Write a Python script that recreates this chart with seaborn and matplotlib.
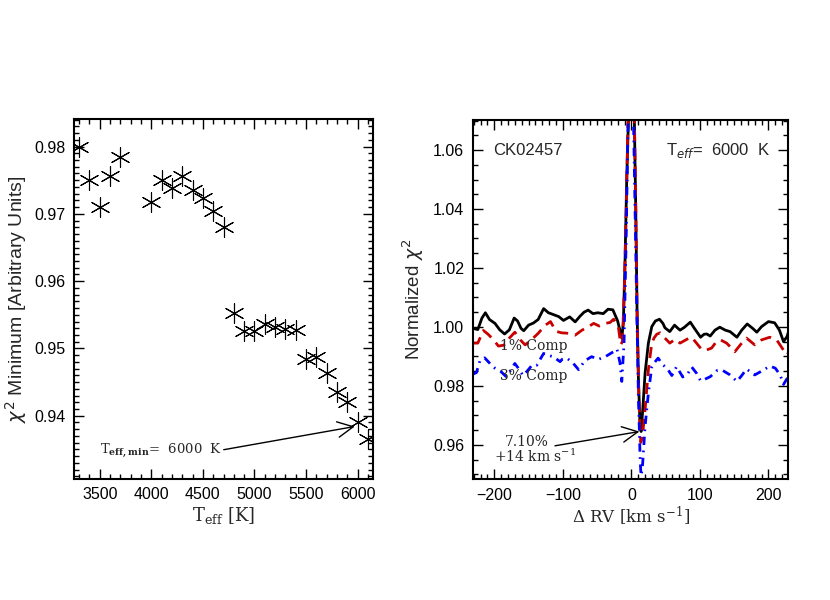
import numpy as np
import pandas as pd
import matplotlib
matplotlib.use('Agg')
import matplotlib.pyplot as plt
from matplotlib.ticker import MultipleLocator
import seaborn as sns

# left panel: chi2 minimum vs template Teff
teff = [3300, 3400, 3500, 3600, 3700, 4000, 4100, 4200, 4300, 4400, 4500, 4600, 4700,
        4800, 4900, 5000, 5100, 5200, 5300, 5400, 5500, 5600, 5700, 5800, 5900, 6000, 6100]
chi2_min = [0.9800, 0.9751, 0.9710, 0.9757, 0.9784, 0.9718, 0.9751, 0.9739, 0.9757, 0.9736,
            0.9723, 0.9704, 0.9681, 0.9553, 0.9526, 0.9526, 0.9537, 0.9532, 0.9529, 0.9528,
            0.9484, 0.9487, 0.9463, 0.9435, 0.9421, 0.9390, 0.9366]

# right panel: normalized chi2 vs delta RV, three companion levels
rv_black = [-231, -224, -218, -213, -207, -199, -192, -185, -178, -171, -166, -161, -157, -150,
            -143, -136, -128, -121, -114, -106, -99, -90, -82, -75, -69, -63, -56, -49, -41,
            -34, -27, -20, -14, -11.7, -9.2, -6.7, -4.3, -2, 0, 2, 4.4, 6.4, 8.3, 10.2, 12.7,
            14.2, 16.6, 20, 24.8, 29.8, 35, 41, 46, 49, 56, 63, 68, 71, 77, 86, 92, 101, 106,
            110, 115, 122, 129, 137, 144, 154, 161, 169, 177, 183, 190, 200, 209, 216, 222,
            227, 230]
chi_black = [0.9995, 0.9991, 1.0030, 1.0048, 1.0025, 1.0012, 0.9990, 0.9976, 0.9990, 1.0030,
             1.0020, 0.9995, 0.9987, 1.0006, 1.0013, 1.0025, 1.0062, 1.0048, 1.0042, 1.0035,
             1.0022, 1.0034, 1.0017, 1.0036, 1.0050, 1.0057, 1.0045, 1.0048, 1.0045, 1.0060,
             1.0058, 1.0020, 0.9962, 1.0013, 1.0227, 1.0510, 1.0700, 1.0950, 1.1100, 1.0950,
             1.0700, 1.0397, 1.0057, 0.9831, 0.9662, 0.9645, 0.9719, 0.9843, 0.9945, 1.0001,
             1.0020, 1.0026, 1.0012, 0.9997, 0.9984, 1.0006, 0.9995, 0.9989, 0.9998, 1.0016,
             0.9995, 0.9965, 0.9975, 0.9976, 0.9969, 0.9989, 0.9999, 0.9989, 0.9984, 0.9965,
             0.9989, 1.0010, 0.9995, 0.9982, 1.0001, 1.0018, 1.0014, 0.9989, 0.9950, 0.9967,
             0.9989]

rv_red = [-231, -224, -216, -209, -201, -194, -186, -178, -170, -162, -155, -145, -136, -126,
          -118, -110, -102, -90, -82, -72, -63, -55, -47, -38, -31, -26, -19, -15.5, -13, -10,
          -7.5, -5, -2, 0, 2, 4.5, 6.5, 8.5, 11, 13.7, 16, 20, 24.8, 29.8, 33, 37, 42, 49, 56,
          64, 71, 81, 88, 95, 103, 110, 117, 124, 130, 139, 151, 161, 168, 180, 190, 202, 212,
          220, 227, 230]
chi_red = [0.9945, 0.9945, 0.9988, 0.9975, 0.9956, 0.9935, 0.9938, 0.9962, 0.9982, 0.9956,
           0.9939, 0.9958, 0.9978, 1.0005, 1.0018, 0.9985, 0.9980, 0.9978, 0.9972, 0.9989,
           1.0000, 1.0012, 1.0003, 1.0012, 1.0015, 1.0026, 1.0000, 0.9940, 0.9950, 1.0150,
           1.0400, 1.0700, 1.0950, 1.1100, 1.0950, 1.0700, 1.0400, 1.0030, 0.9750, 0.9608,
           0.9625, 0.9719, 0.9854, 0.9945, 0.9962, 0.9975, 0.9980, 0.9962, 0.9945, 0.9958,
           0.9945, 0.9958, 0.9965, 0.9945, 0.9922, 0.9922, 0.9928, 0.9950, 0.9956, 0.9945,
           0.9916, 0.9945, 0.9962, 0.9939, 0.9956, 0.9965, 0.9956, 0.9928, 0.9905, 0.9915]

rv_blue = [-231, -226, -221, -214, -206, -199, -191, -183, -177, -170, -165, -158, -152, -145,
           -138, -128, -119, -114, -104, -101, -94, -85, -77, -68, -58, -48, -38, -26, -21,
           -16.5, -14, -10.7, -7.7, -5.3, -3, 0, 2, 5.4, 7.9, 10.2, 12.7, 14, 16, 20, 24.8,
           29.8, 34, 39, 46, 52, 59, 66, 75, 82, 88, 95, 101, 105, 115, 125, 132, 144, 154,
           161, 168, 180, 190, 202, 210, 217, 222, 227, 230]
chi_blue = [0.9840, 0.9845, 0.9885, 0.9895, 0.9875, 0.9860, 0.9850, 0.9832, 0.9850, 0.9876,
            0.9860, 0.9835, 0.9850, 0.9870, 0.9870, 0.9910, 0.9902, 0.9899, 0.9882, 0.9890,
            0.9894, 0.9877, 0.9855, 0.9885, 0.9899, 0.9890, 0.9899, 0.9916, 0.9925, 0.9877,
            0.9815, 0.9945, 1.0284, 1.0623, 1.0900, 1.1100, 1.0850, 1.0397, 1.0057, 0.9775,
            0.9560, 0.9495, 0.9520, 0.9662, 0.9775, 0.9865, 0.9880, 0.9894, 0.9871, 0.9860,
            0.9835, 0.9865, 0.9830, 0.9840, 0.9864, 0.9843, 0.9817, 0.9820, 0.9831, 0.9852,
            0.9854, 0.9837, 0.9815, 0.9835, 0.9857, 0.9837, 0.9850, 0.9867, 0.9860, 0.9837,
            0.9805, 0.9824, 0.9826]

sns.set_style('ticks')
plt.rcParams['font.family'] = ['Liberation Sans', 'DejaVu Sans']
plt.rcParams['axes.linewidth'] = 1.5

fig = plt.figure(figsize=(8.3, 6.0), dpi=100)
ax1 = fig.add_axes([0.0892, 0.2017, 0.3602, 0.6])
ax2 = fig.add_axes([0.5695, 0.2012, 0.3803, 0.5988])

serif = ['DejaVu Serif']

def style_axis(ax):
    ax.tick_params(which='both', direction='in', top=True, right=True, labelsize=11.5, colors='k')
    ax.tick_params(which='major', length=7, width=1, pad=6)
    ax.tick_params(which='minor', length=3.5, width=1)
    for s in ax.spines.values():
        s.set_color('k')

# ---- left panel ----
df1 = pd.DataFrame({'teff': teff, 'chi2': chi2_min})
sns.scatterplot(data=df1, x='teff', y='chi2', ax=ax1, marker=(6, 2, 0), s=200,
                color='k', linewidth=0.8, edgecolor='k')
sns.scatterplot(data=df1, x='teff', y='chi2', ax=ax1, marker='o', s=6, color='k', linewidth=0)
ax1.set_xlim(3250, 6150)
ax1.set_ylim(0.9306, 0.9841)
ax1.xaxis.set_major_locator(MultipleLocator(500))
ax1.xaxis.set_minor_locator(MultipleLocator(100))
ax1.yaxis.set_major_locator(MultipleLocator(0.01))
ax1.yaxis.set_minor_locator(MultipleLocator(0.001))
ax1.yaxis.set_major_formatter(matplotlib.ticker.FormatStrFormatter('%.2f'))
style_axis(ax1)
ax1.set_xlabel(r'T$_{\rm eff}$ [K]', fontsize=13, family=serif, math_fontfamily='dejavuserif',
               labelpad=2)
ax1.set_ylabel(r'$\chi^2$ Minimum [Arbitrary Units]', fontsize=14, math_fontfamily='dejavusans',
               labelpad=4)
ax1.annotate('', xy=(5973, 0.93840), xytext=(4702, 0.93495),
             arrowprops=dict(arrowstyle='->', lw=1, color='k', mutation_scale=28,
                             shrinkA=0, shrinkB=0))
ax1.text(3498, 0.9347, r'T$_{\bf eff,min}$=  6000  K', fontsize=9.5, family=serif,
         math_fontfamily='dejavuserif', ha='left', va='center')

# ---- right panel ----
sns.lineplot(x=rv_black, y=chi_black, ax=ax2, color='k', lw=2, estimator=None)
sns.lineplot(x=rv_red, y=chi_red, ax=ax2, color='#c80000', lw=2, estimator=None,
             linestyle=(0, (4, 2.5)))
sns.lineplot(x=rv_blue, y=chi_blue, ax=ax2, color='#0000ff', lw=2, estimator=None,
             linestyle=(0, (3, 2, 0.6, 2)))
ax2.set_xlim(-231.5, 229)
ax2.set_ylim(0.9483, 1.0702)
ax2.xaxis.set_major_locator(MultipleLocator(100))
ax2.xaxis.set_minor_locator(MultipleLocator(10))
ax2.yaxis.set_major_locator(MultipleLocator(0.02))
ax2.yaxis.set_minor_locator(MultipleLocator(0.005))
ax2.yaxis.set_major_formatter(matplotlib.ticker.FormatStrFormatter('%.2f'))
style_axis(ax2)
ax2.set_xlabel(r'$\Delta$ RV [km s$^{-1}$]', fontsize=12, family=serif,
               math_fontfamily='dejavuserif', labelpad=2)
ax2.set_ylabel(r'Normalized $\chi^2$', fontsize=13.5, math_fontfamily='dejavusans', labelpad=5)

ax2.text(-201.5, 1.06, 'CK02457', fontsize=12, ha='left', va='center')
ax2.text(202.5, 1.06, r'T$_{\it eff}$=  6000  K', fontsize=12, ha='right', va='center',
         math_fontfamily='dejavusans')
ax2.text(-191.7, 0.9936, '1% Comp', fontsize=10, family=serif, ha='left', va='center')
ax2.text(-191.7, 0.9834, '3% Comp', fontsize=10, family=serif, ha='left', va='center')
ax2.text(-152.7, 0.9611, '7.10%', fontsize=10, family=serif, ha='center', va='center')
ax2.text(-140.6, 0.9560, r'+14 km s$^{-1}$', fontsize=10, family=serif, ha='center',
         va='center', math_fontfamily='dejavuserif')
ax2.annotate('', xy=(11.7, 0.9645), xytext=(-111.4, 0.95966),
             arrowprops=dict(arrowstyle='->', lw=1, color='k', mutation_scale=28,
                             shrinkA=0, shrinkB=0))

fig.savefig('out.png', dpi=100, facecolor='white')
